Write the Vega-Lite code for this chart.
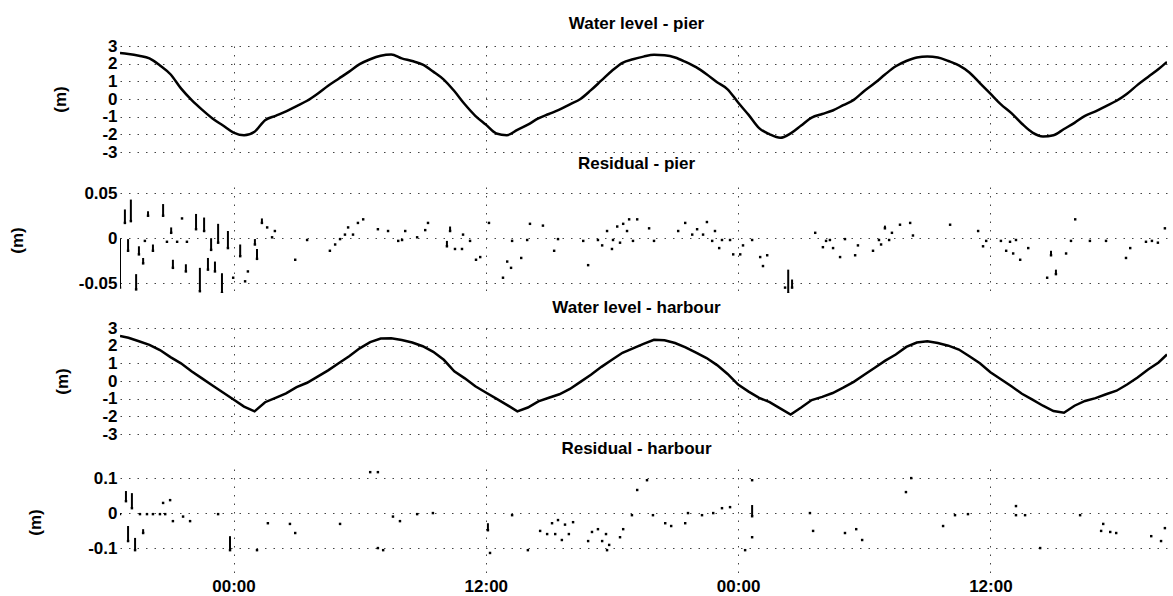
{
"$schema": "https://vega.github.io/schema/vega-lite/v6.json",
"background": "white",
"padding": {"left": 8, "top": 15, "right": 5, "bottom": 2},
"bounds": "flush",
"spacing": 35,
"config": {
  "view": {"stroke": null},
  "font": "Liberation Sans",
  "axis": {"labelFont": "Liberation Sans", "labelFontWeight": "bold", "labelFontSize": 17, "labelColor": "black",
           "titleFont": "Liberation Sans", "titleFontWeight": "bold", "titleFontSize": 17, "titleColor": "black",
           "domain": false, "ticks": false, "grid": true, "gridColor": "#444", "gridDash": [1.5, 7], "gridOpacity": 1, "gridWidth": 1, "labelPadding": 3},
  "title": {"font": "Liberation Sans", "fontSize": 17, "fontWeight": "bold", "color": "black", "anchor": "middle", "frame": "group", "baseline": "alphabetic", "dx": -7}
},
"datasets": {
"level": [
{"time":"2000-01-01T18:36Z","pier":2.6,"harbour":2.55},
{"time":"2000-01-01T19:00Z","pier":2.55,"harbour":2.45},
{"time":"2000-01-01T19:30Z","pier":2.45,"harbour":2.25},
{"time":"2000-01-01T20:00Z","pier":2.3,"harbour":2.05},
{"time":"2000-01-01T20:30Z","pier":1.9,"harbour":1.75},
{"time":"2000-01-01T21:00Z","pier":1.4,"harbour":1.35},
{"time":"2000-01-01T21:30Z","pier":0.6,"harbour":1.0},
{"time":"2000-01-01T22:00Z","pier":-0.05,"harbour":0.55},
{"time":"2000-01-01T22:30Z","pier":-0.6,"harbour":0.15},
{"time":"2000-01-01T23:00Z","pier":-1.1,"harbour":-0.25},
{"time":"2000-01-01T23:30Z","pier":-1.5,"harbour":-0.65},
{"time":"2000-01-02T00:00Z","pier":-1.9,"harbour":-1.05},
{"time":"2000-01-02T00:30Z","pier":-2.05,"harbour":-1.45},
{"time":"2000-01-02T01:00Z","pier":-1.85,"harbour":-1.72},
{"time":"2000-01-02T01:30Z","pier":-1.2,"harbour":-1.2},
{"time":"2000-01-02T02:00Z","pier":-0.95,"harbour":-0.95},
{"time":"2000-01-02T02:30Z","pier":-0.7,"harbour":-0.7},
{"time":"2000-01-02T03:00Z","pier":-0.4,"harbour":-0.35},
{"time":"2000-01-02T03:30Z","pier":-0.1,"harbour":-0.1},
{"time":"2000-01-02T04:00Z","pier":0.3,"harbour":0.25},
{"time":"2000-01-02T04:30Z","pier":0.75,"harbour":0.6},
{"time":"2000-01-02T05:00Z","pier":1.15,"harbour":1.0},
{"time":"2000-01-02T05:30Z","pier":1.55,"harbour":1.4},
{"time":"2000-01-02T06:00Z","pier":1.97,"harbour":1.85},
{"time":"2000-01-02T06:30Z","pier":2.25,"harbour":2.2},
{"time":"2000-01-02T07:00Z","pier":2.45,"harbour":2.4},
{"time":"2000-01-02T07:30Z","pier":2.52,"harbour":2.42},
{"time":"2000-01-02T08:00Z","pier":2.3,"harbour":2.32},
{"time":"2000-01-02T08:30Z","pier":2.15,"harbour":2.18},
{"time":"2000-01-02T09:00Z","pier":1.95,"harbour":1.97},
{"time":"2000-01-02T09:30Z","pier":1.55,"harbour":1.65},
{"time":"2000-01-02T10:00Z","pier":1.1,"harbour":1.2},
{"time":"2000-01-02T10:30Z","pier":0.45,"harbour":0.55},
{"time":"2000-01-02T11:00Z","pier":-0.3,"harbour":0.15},
{"time":"2000-01-02T11:30Z","pier":-0.95,"harbour":-0.3},
{"time":"2000-01-02T12:00Z","pier":-1.45,"harbour":-0.65},
{"time":"2000-01-02T12:30Z","pier":-1.95,"harbour":-1.0},
{"time":"2000-01-02T13:00Z","pier":-2.05,"harbour":-1.35},
{"time":"2000-01-02T13:30Z","pier":-1.75,"harbour":-1.72},
{"time":"2000-01-02T14:00Z","pier":-1.45,"harbour":-1.5},
{"time":"2000-01-02T14:30Z","pier":-1.1,"harbour":-1.15},
{"time":"2000-01-02T15:00Z","pier":-0.85,"harbour":-0.95},
{"time":"2000-01-02T15:30Z","pier":-0.6,"harbour":-0.75},
{"time":"2000-01-02T16:00Z","pier":-0.3,"harbour":-0.45},
{"time":"2000-01-02T16:30Z","pier":0.0,"harbour":-0.05},
{"time":"2000-01-02T17:00Z","pier":0.5,"harbour":0.35},
{"time":"2000-01-02T17:30Z","pier":1.05,"harbour":0.8},
{"time":"2000-01-02T18:00Z","pier":1.6,"harbour":1.2},
{"time":"2000-01-02T18:30Z","pier":2.05,"harbour":1.6},
{"time":"2000-01-02T19:00Z","pier":2.25,"harbour":1.85},
{"time":"2000-01-02T19:30Z","pier":2.4,"harbour":2.1},
{"time":"2000-01-02T20:00Z","pier":2.5,"harbour":2.33},
{"time":"2000-01-02T20:30Z","pier":2.47,"harbour":2.3},
{"time":"2000-01-02T21:00Z","pier":2.35,"harbour":2.15},
{"time":"2000-01-02T21:30Z","pier":2.1,"harbour":1.9},
{"time":"2000-01-02T22:00Z","pier":1.8,"harbour":1.6},
{"time":"2000-01-02T22:30Z","pier":1.4,"harbour":1.3},
{"time":"2000-01-02T23:00Z","pier":0.95,"harbour":0.9},
{"time":"2000-01-02T23:30Z","pier":0.55,"harbour":0.4},
{"time":"2000-01-03T00:00Z","pier":-0.2,"harbour":-0.2},
{"time":"2000-01-03T00:30Z","pier":-0.9,"harbour":-0.6},
{"time":"2000-01-03T01:00Z","pier":-1.65,"harbour":-0.95},
{"time":"2000-01-03T01:30Z","pier":-2.0,"harbour":-1.2},
{"time":"2000-01-03T02:00Z","pier":-2.2,"harbour":-1.55},
{"time":"2000-01-03T02:30Z","pier":-1.95,"harbour":-1.9},
{"time":"2000-01-03T03:00Z","pier":-1.5,"harbour":-1.5},
{"time":"2000-01-03T03:30Z","pier":-1.05,"harbour":-1.08},
{"time":"2000-01-03T04:00Z","pier":-0.85,"harbour":-0.9},
{"time":"2000-01-03T04:30Z","pier":-0.65,"harbour":-0.68},
{"time":"2000-01-03T05:00Z","pier":-0.35,"harbour":-0.38},
{"time":"2000-01-03T05:30Z","pier":-0.05,"harbour":-0.05},
{"time":"2000-01-03T06:00Z","pier":0.45,"harbour":0.35},
{"time":"2000-01-03T06:30Z","pier":0.9,"harbour":0.75},
{"time":"2000-01-03T07:00Z","pier":1.4,"harbour":1.15},
{"time":"2000-01-03T07:30Z","pier":1.85,"harbour":1.5},
{"time":"2000-01-03T08:00Z","pier":2.15,"harbour":1.93},
{"time":"2000-01-03T08:30Z","pier":2.35,"harbour":2.18},
{"time":"2000-01-03T09:00Z","pier":2.4,"harbour":2.25},
{"time":"2000-01-03T09:30Z","pier":2.35,"harbour":2.15},
{"time":"2000-01-03T10:00Z","pier":2.15,"harbour":2.0},
{"time":"2000-01-03T10:30Z","pier":1.9,"harbour":1.78},
{"time":"2000-01-03T11:00Z","pier":1.5,"harbour":1.4},
{"time":"2000-01-03T11:30Z","pier":0.9,"harbour":1.0},
{"time":"2000-01-03T12:00Z","pier":0.3,"harbour":0.5},
{"time":"2000-01-03T12:30Z","pier":-0.3,"harbour":0.1},
{"time":"2000-01-03T13:00Z","pier":-0.8,"harbour":-0.3},
{"time":"2000-01-03T13:30Z","pier":-1.4,"harbour":-0.72},
{"time":"2000-01-03T14:00Z","pier":-1.9,"harbour":-1.05},
{"time":"2000-01-03T14:30Z","pier":-2.12,"harbour":-1.4},
{"time":"2000-01-03T15:00Z","pier":-2.05,"harbour":-1.7},
{"time":"2000-01-03T15:30Z","pier":-1.7,"harbour":-1.8},
{"time":"2000-01-03T16:00Z","pier":-1.35,"harbour":-1.4},
{"time":"2000-01-03T16:30Z","pier":-0.95,"harbour":-1.13},
{"time":"2000-01-03T17:00Z","pier":-0.7,"harbour":-0.97},
{"time":"2000-01-03T17:30Z","pier":-0.4,"harbour":-0.75},
{"time":"2000-01-03T18:00Z","pier":-0.1,"harbour":-0.55},
{"time":"2000-01-03T18:30Z","pier":0.3,"harbour":-0.2},
{"time":"2000-01-03T19:00Z","pier":0.8,"harbour":0.2},
{"time":"2000-01-03T19:30Z","pier":1.25,"harbour":0.65},
{"time":"2000-01-03T20:00Z","pier":1.7,"harbour":1.05},
{"time":"2000-01-03T20:24Z","pier":2.1,"harbour":1.5}
],
"rpier": [
{"time":"2000-01-01T18:36Z","lo":-0.055,"hi":0},
{"time":"2000-01-01T18:50Z","lo":0.017,"hi":0.032},
{"time":"2000-01-01T18:59Z","lo":-0.014,"hi":-0.001},
{"time":"2000-01-01T19:07Z","lo":0.019,"hi":0.043},
{"time":"2000-01-01T19:22Z","lo":-0.057,"hi":-0.04},
{"time":"2000-01-01T19:30Z","lo":-0.018,"hi":-0.009},
{"time":"2000-01-01T19:42Z","lo":-0.028,"hi":-0.022},
{"time":"2000-01-01T19:47Z","lo":-0.003,"hi":-0.003},
{"time":"2000-01-01T19:56Z","lo":0.025,"hi":0.03},
{"time":"2000-01-01T20:10Z","lo":-0.014,"hi":-0.007},
{"time":"2000-01-01T20:39Z","lo":0.025,"hi":0.038},
{"time":"2000-01-01T20:50Z","lo":-0.004,"hi":-0.004},
{"time":"2000-01-01T21:02Z","lo":0.006,"hi":0.012},
{"time":"2000-01-01T21:07Z","lo":-0.033,"hi":-0.024},
{"time":"2000-01-01T21:19Z","lo":-0.004,"hi":-0.004},
{"time":"2000-01-01T21:33Z","lo":0.022,"hi":0.022},
{"time":"2000-01-01T21:44Z","lo":-0.037,"hi":-0.029},
{"time":"2000-01-01T21:47Z","lo":-0.004,"hi":-0.004},
{"time":"2000-01-01T22:13Z","lo":0.01,"hi":0.027},
{"time":"2000-01-01T22:24Z","lo":-0.059,"hi":-0.033},
{"time":"2000-01-01T22:36Z","lo":0.008,"hi":0.023},
{"time":"2000-01-01T22:47Z","lo":-0.035,"hi":-0.022},
{"time":"2000-01-01T22:56Z","lo":-0.013,"hi":0},
{"time":"2000-01-01T23:07Z","lo":-0.037,"hi":-0.026},
{"time":"2000-01-01T23:16Z","lo":-0.005,"hi":0.016},
{"time":"2000-01-01T23:27Z","lo":-0.061,"hi":-0.039},
{"time":"2000-01-01T23:44Z","lo":-0.011,"hi":0.008},
{"time":"2000-01-01T23:59Z","lo":-0.044,"hi":-0.044},
{"time":"2000-01-02T00:19Z","lo":-0.02,"hi":-0.007},
{"time":"2000-01-02T00:33Z","lo":-0.048,"hi":-0.048},
{"time":"2000-01-02T00:41Z","lo":-0.037,"hi":-0.037},
{"time":"2000-01-02T01:01Z","lo":-0.007,"hi":-0.001},
{"time":"2000-01-02T01:07Z","lo":-0.023,"hi":-0.012},
{"time":"2000-01-02T01:21Z","lo":0.017,"hi":0.022},
{"time":"2000-01-02T01:36Z","lo":0.012,"hi":0.012},
{"time":"2000-01-02T01:50Z","lo":0.001,"hi":0.001},
{"time":"2000-01-02T01:58Z","lo":0.008,"hi":0.008},
{"time":"2000-01-02T02:56Z","lo":-0.024,"hi":-0.024},
{"time":"2000-01-02T03:30Z","lo":-0.002,"hi":-0.002},
{"time":"2000-01-02T04:35Z","lo":-0.014,"hi":-0.014},
{"time":"2000-01-02T04:50Z","lo":-0.007,"hi":-0.007},
{"time":"2000-01-02T05:04Z","lo":-0.001,"hi":-0.001},
{"time":"2000-01-02T05:18Z","lo":0.004,"hi":0.004},
{"time":"2000-01-02T05:27Z","lo":0.012,"hi":0.012},
{"time":"2000-01-02T05:41Z","lo":0.004,"hi":0.004},
{"time":"2000-01-02T05:55Z","lo":0.017,"hi":0.017},
{"time":"2000-01-02T06:10Z","lo":0.021,"hi":0.021},
{"time":"2000-01-02T06:52Z","lo":0.01,"hi":0.01},
{"time":"2000-01-02T07:21Z","lo":0.008,"hi":0.008},
{"time":"2000-01-02T07:50Z","lo":-0.003,"hi":-0.003},
{"time":"2000-01-02T08:01Z","lo":-0.002,"hi":-0.002},
{"time":"2000-01-02T08:10Z","lo":0.008,"hi":0.008},
{"time":"2000-01-02T08:44Z","lo":0.001,"hi":0.001},
{"time":"2000-01-02T09:07Z","lo":0.009,"hi":0.009},
{"time":"2000-01-02T09:15Z","lo":0.017,"hi":0.017},
{"time":"2000-01-02T10:09Z","lo":-0.009,"hi":-0.003},
{"time":"2000-01-02T10:18Z","lo":0.008,"hi":0.013},
{"time":"2000-01-02T10:32Z","lo":-0.012,"hi":-0.012},
{"time":"2000-01-02T10:52Z","lo":-0.012,"hi":-0.012},
{"time":"2000-01-02T10:55Z","lo":0.004,"hi":0.004},
{"time":"2000-01-02T11:15Z","lo":-0.003,"hi":-0.003},
{"time":"2000-01-02T11:32Z","lo":-0.024,"hi":-0.024},
{"time":"2000-01-02T11:44Z","lo":-0.021,"hi":-0.021},
{"time":"2000-01-02T12:09Z","lo":0.017,"hi":0.017},
{"time":"2000-01-02T12:49Z","lo":-0.044,"hi":-0.044},
{"time":"2000-01-02T13:01Z","lo":-0.026,"hi":-0.026},
{"time":"2000-01-02T13:12Z","lo":-0.033,"hi":-0.033},
{"time":"2000-01-02T13:15Z","lo":-0.003,"hi":-0.003},
{"time":"2000-01-02T13:41Z","lo":-0.022,"hi":-0.022},
{"time":"2000-01-02T13:58Z","lo":-0.002,"hi":-0.002},
{"time":"2000-01-02T14:06Z","lo":0.016,"hi":0.016},
{"time":"2000-01-02T14:43Z","lo":0.014,"hi":0.014},
{"time":"2000-01-02T15:15Z","lo":-0.014,"hi":-0.014},
{"time":"2000-01-02T15:26Z","lo":-0.001,"hi":-0.001},
{"time":"2000-01-02T16:38Z","lo":-0.003,"hi":-0.003},
{"time":"2000-01-02T16:52Z","lo":-0.03,"hi":-0.03},
{"time":"2000-01-02T17:20Z","lo":-0.002,"hi":-0.002},
{"time":"2000-01-02T17:32Z","lo":-0.008,"hi":-0.008},
{"time":"2000-01-02T17:46Z","lo":0.008,"hi":0.008},
{"time":"2000-01-02T18:00Z","lo":-0.012,"hi":-0.012},
{"time":"2000-01-02T18:03Z","lo":-0.002,"hi":-0.002},
{"time":"2000-01-02T18:15Z","lo":0.013,"hi":0.013},
{"time":"2000-01-02T18:23Z","lo":-0.005,"hi":-0.005},
{"time":"2000-01-02T18:32Z","lo":0.016,"hi":0.016},
{"time":"2000-01-02T18:43Z","lo":0.008,"hi":0.008},
{"time":"2000-01-02T18:49Z","lo":0.021,"hi":0.021},
{"time":"2000-01-02T19:00Z","lo":-0.003,"hi":-0.003},
{"time":"2000-01-02T19:12Z","lo":0.021,"hi":0.021},
{"time":"2000-01-02T19:46Z","lo":0.011,"hi":0.011},
{"time":"2000-01-02T20:00Z","lo":-0.003,"hi":-0.003},
{"time":"2000-01-02T21:09Z","lo":0.008,"hi":0.008},
{"time":"2000-01-02T21:29Z","lo":0.017,"hi":0.017},
{"time":"2000-01-02T21:49Z","lo":0.004,"hi":0.004},
{"time":"2000-01-02T22:03Z","lo":0.01,"hi":0.01},
{"time":"2000-01-02T22:20Z","lo":0.004,"hi":0.004},
{"time":"2000-01-02T22:31Z","lo":0.018,"hi":0.018},
{"time":"2000-01-02T22:46Z","lo":-0.003,"hi":-0.003},
{"time":"2000-01-02T22:54Z","lo":0.008,"hi":0.008},
{"time":"2000-01-02T23:06Z","lo":-0.011,"hi":-0.011},
{"time":"2000-01-02T23:14Z","lo":-0.002,"hi":-0.002},
{"time":"2000-01-02T23:37Z","lo":-0.002,"hi":-0.002},
{"time":"2000-01-02T23:46Z","lo":-0.018,"hi":-0.018},
{"time":"2000-01-03T00:06Z","lo":-0.018,"hi":-0.018},
{"time":"2000-01-03T00:14Z","lo":-0.008,"hi":-0.008},
{"time":"2000-01-03T00:40Z","lo":-0.002,"hi":-0.002},
{"time":"2000-01-03T01:03Z","lo":-0.021,"hi":-0.021},
{"time":"2000-01-03T01:11Z","lo":-0.031,"hi":-0.031},
{"time":"2000-01-03T01:23Z","lo":-0.019,"hi":-0.019},
{"time":"2000-01-03T02:14Z","lo":-0.055,"hi":-0.055},
{"time":"2000-01-03T02:23Z","lo":-0.062,"hi":-0.035},
{"time":"2000-01-03T02:34Z","lo":-0.055,"hi":-0.046},
{"time":"2000-01-03T03:40Z","lo":0.006,"hi":0.006},
{"time":"2000-01-03T04:02Z","lo":-0.01,"hi":-0.01},
{"time":"2000-01-03T04:11Z","lo":-0.003,"hi":-0.003},
{"time":"2000-01-03T04:22Z","lo":-0.002,"hi":-0.002},
{"time":"2000-01-03T04:31Z","lo":-0.011,"hi":-0.011},
{"time":"2000-01-03T04:51Z","lo":-0.021,"hi":-0.021},
{"time":"2000-01-03T05:05Z","lo":-0.001,"hi":-0.001},
{"time":"2000-01-03T05:34Z","lo":-0.019,"hi":-0.019},
{"time":"2000-01-03T05:42Z","lo":-0.008,"hi":-0.008},
{"time":"2000-01-03T06:25Z","lo":-0.014,"hi":-0.014},
{"time":"2000-01-03T06:42Z","lo":-0.002,"hi":-0.002},
{"time":"2000-01-03T06:48Z","lo":-0.007,"hi":-0.007},
{"time":"2000-01-03T06:59Z","lo":0.011,"hi":0.014},
{"time":"2000-01-03T07:11Z","lo":-0.002,"hi":-0.002},
{"time":"2000-01-03T07:19Z","lo":0.006,"hi":0.006},
{"time":"2000-01-03T07:42Z","lo":0.015,"hi":0.015},
{"time":"2000-01-03T08:11Z","lo":0.017,"hi":0.017},
{"time":"2000-01-03T08:19Z","lo":0.003,"hi":0.003},
{"time":"2000-01-03T10:05Z","lo":0.015,"hi":0.015},
{"time":"2000-01-03T11:25Z","lo":0.008,"hi":0.008},
{"time":"2000-01-03T11:39Z","lo":-0.009,"hi":-0.009},
{"time":"2000-01-03T11:48Z","lo":-0.003,"hi":-0.003},
{"time":"2000-01-03T12:30Z","lo":-0.003,"hi":-0.003},
{"time":"2000-01-03T12:45Z","lo":-0.014,"hi":-0.014},
{"time":"2000-01-03T12:56Z","lo":-0.004,"hi":-0.004},
{"time":"2000-01-03T13:05Z","lo":-0.017,"hi":-0.017},
{"time":"2000-01-03T13:13Z","lo":-0.002,"hi":-0.002},
{"time":"2000-01-03T13:25Z","lo":-0.024,"hi":-0.024},
{"time":"2000-01-03T13:48Z","lo":-0.011,"hi":-0.011},
{"time":"2000-01-03T14:42Z","lo":-0.044,"hi":-0.044},
{"time":"2000-01-03T14:53Z","lo":-0.019,"hi":-0.014},
{"time":"2000-01-03T15:07Z","lo":-0.04,"hi":-0.035},
{"time":"2000-01-03T15:36Z","lo":-0.017,"hi":-0.017},
{"time":"2000-01-03T15:50Z","lo":-0.003,"hi":-0.003},
{"time":"2000-01-03T16:02Z","lo":0.021,"hi":0.021},
{"time":"2000-01-03T16:44Z","lo":-0.003,"hi":-0.003},
{"time":"2000-01-03T17:30Z","lo":-0.003,"hi":-0.003},
{"time":"2000-01-03T18:27Z","lo":-0.022,"hi":-0.022},
{"time":"2000-01-03T18:39Z","lo":-0.011,"hi":-0.011},
{"time":"2000-01-03T19:24Z","lo":-0.004,"hi":-0.004},
{"time":"2000-01-03T19:41Z","lo":-0.003,"hi":-0.003},
{"time":"2000-01-03T19:58Z","lo":-0.005,"hi":-0.005},
{"time":"2000-01-03T20:18Z","lo":0.011,"hi":0.011}
],
"rharb": [
{"time":"2000-01-01T18:36Z","lo":-0.003,"hi":-0.003},
{"time":"2000-01-01T18:53Z","lo":0.034,"hi":0.063},
{"time":"2000-01-01T18:59Z","lo":-0.08,"hi":-0.037},
{"time":"2000-01-01T19:10Z","lo":0.014,"hi":0.057},
{"time":"2000-01-01T19:19Z","lo":-0.106,"hi":-0.071},
{"time":"2000-01-01T19:33Z","lo":-0.003,"hi":-0.003},
{"time":"2000-01-01T19:42Z","lo":-0.057,"hi":-0.046},
{"time":"2000-01-01T19:53Z","lo":-0.003,"hi":-0.003},
{"time":"2000-01-01T20:10Z","lo":-0.003,"hi":-0.003},
{"time":"2000-01-01T20:30Z","lo":-0.003,"hi":-0.003},
{"time":"2000-01-01T20:39Z","lo":0.029,"hi":0.029},
{"time":"2000-01-01T20:45Z","lo":-0.003,"hi":-0.003},
{"time":"2000-01-01T20:59Z","lo":0.037,"hi":0.037},
{"time":"2000-01-01T21:07Z","lo":-0.023,"hi":-0.023},
{"time":"2000-01-01T21:36Z","lo":-0.01,"hi":-0.01},
{"time":"2000-01-01T21:56Z","lo":-0.023,"hi":-0.023},
{"time":"2000-01-01T23:16Z","lo":-0.003,"hi":-0.003},
{"time":"2000-01-01T23:50Z","lo":-0.106,"hi":-0.066},
{"time":"2000-01-02T01:07Z","lo":-0.106,"hi":-0.106},
{"time":"2000-01-02T01:38Z","lo":-0.029,"hi":-0.029},
{"time":"2000-01-02T02:41Z","lo":-0.031,"hi":-0.031},
{"time":"2000-01-02T02:56Z","lo":-0.057,"hi":-0.057},
{"time":"2000-01-02T05:04Z","lo":-0.031,"hi":-0.031},
{"time":"2000-01-02T06:30Z","lo":0.117,"hi":0.117},
{"time":"2000-01-02T06:52Z","lo":0.117,"hi":0.117},
{"time":"2000-01-02T06:52Z","lo":-0.1,"hi":-0.1},
{"time":"2000-01-02T07:07Z","lo":-0.106,"hi":-0.106},
{"time":"2000-01-02T07:35Z","lo":-0.01,"hi":-0.01},
{"time":"2000-01-02T07:55Z","lo":-0.023,"hi":-0.023},
{"time":"2000-01-02T08:44Z","lo":-0.003,"hi":-0.003},
{"time":"2000-01-02T09:29Z","lo":0,"hi":0},
{"time":"2000-01-02T12:06Z","lo":-0.049,"hi":-0.029},
{"time":"2000-01-02T12:12Z","lo":-0.114,"hi":-0.114},
{"time":"2000-01-02T13:15Z","lo":-0.006,"hi":-0.006},
{"time":"2000-01-02T14:00Z","lo":-0.106,"hi":-0.106},
{"time":"2000-01-02T14:35Z","lo":-0.051,"hi":-0.051},
{"time":"2000-01-02T14:55Z","lo":-0.06,"hi":-0.06},
{"time":"2000-01-02T15:09Z","lo":-0.029,"hi":-0.029},
{"time":"2000-01-02T15:18Z","lo":-0.06,"hi":-0.06},
{"time":"2000-01-02T15:26Z","lo":-0.02,"hi":-0.02},
{"time":"2000-01-02T15:37Z","lo":-0.077,"hi":-0.077},
{"time":"2000-01-02T15:46Z","lo":-0.033,"hi":-0.033},
{"time":"2000-01-02T15:57Z","lo":-0.06,"hi":-0.06},
{"time":"2000-01-02T16:09Z","lo":-0.026,"hi":-0.026},
{"time":"2000-01-02T16:52Z","lo":-0.08,"hi":-0.08},
{"time":"2000-01-02T17:03Z","lo":-0.054,"hi":-0.054},
{"time":"2000-01-02T17:20Z","lo":-0.046,"hi":-0.046},
{"time":"2000-01-02T17:32Z","lo":-0.08,"hi":-0.08},
{"time":"2000-01-02T17:43Z","lo":-0.06,"hi":-0.06},
{"time":"2000-01-02T17:46Z","lo":-0.106,"hi":-0.106},
{"time":"2000-01-02T17:52Z","lo":-0.091,"hi":-0.091},
{"time":"2000-01-02T18:23Z","lo":-0.069,"hi":-0.069},
{"time":"2000-01-02T18:32Z","lo":-0.046,"hi":-0.046},
{"time":"2000-01-02T18:57Z","lo":-0.006,"hi":-0.006},
{"time":"2000-01-02T19:12Z","lo":0.066,"hi":0.066},
{"time":"2000-01-02T19:40Z","lo":0.094,"hi":0.094},
{"time":"2000-01-02T19:57Z","lo":-0.006,"hi":-0.006},
{"time":"2000-01-02T20:32Z","lo":-0.029,"hi":-0.029},
{"time":"2000-01-02T20:49Z","lo":-0.037,"hi":-0.037},
{"time":"2000-01-02T21:29Z","lo":-0.029,"hi":-0.029},
{"time":"2000-01-02T21:37Z","lo":0,"hi":0},
{"time":"2000-01-02T22:17Z","lo":-0.006,"hi":-0.006},
{"time":"2000-01-02T22:49Z","lo":0,"hi":0},
{"time":"2000-01-02T23:14Z","lo":0.014,"hi":0.014},
{"time":"2000-01-02T23:37Z","lo":0.017,"hi":0.017},
{"time":"2000-01-03T00:20Z","lo":-0.106,"hi":-0.106},
{"time":"2000-01-03T00:40Z","lo":-0.009,"hi":0.023},
{"time":"2000-01-03T00:40Z","lo":0.094,"hi":0.094},
{"time":"2000-01-03T00:40Z","lo":-0.069,"hi":-0.069},
{"time":"2000-01-03T03:25Z","lo":0,"hi":0},
{"time":"2000-01-03T03:34Z","lo":-0.051,"hi":-0.051},
{"time":"2000-01-03T05:05Z","lo":-0.057,"hi":-0.057},
{"time":"2000-01-03T05:37Z","lo":-0.046,"hi":-0.046},
{"time":"2000-01-03T05:54Z","lo":-0.077,"hi":-0.077},
{"time":"2000-01-03T07:59Z","lo":0.06,"hi":0.06},
{"time":"2000-01-03T08:14Z","lo":0.1,"hi":0.1},
{"time":"2000-01-03T09:45Z","lo":-0.037,"hi":-0.037},
{"time":"2000-01-03T10:19Z","lo":-0.006,"hi":-0.006},
{"time":"2000-01-03T10:56Z","lo":-0.003,"hi":-0.003},
{"time":"2000-01-03T13:13Z","lo":0.02,"hi":0.02},
{"time":"2000-01-03T13:13Z","lo":-0.006,"hi":-0.006},
{"time":"2000-01-03T13:39Z","lo":-0.006,"hi":-0.006},
{"time":"2000-01-03T14:22Z","lo":-0.1,"hi":-0.1},
{"time":"2000-01-03T16:16Z","lo":-0.006,"hi":-0.006},
{"time":"2000-01-03T17:16Z","lo":-0.051,"hi":-0.051},
{"time":"2000-01-03T17:22Z","lo":-0.031,"hi":-0.031},
{"time":"2000-01-03T17:42Z","lo":-0.054,"hi":-0.054},
{"time":"2000-01-03T17:59Z","lo":-0.057,"hi":-0.057},
{"time":"2000-01-03T19:39Z","lo":-0.066,"hi":-0.066},
{"time":"2000-01-03T20:07Z","lo":-0.08,"hi":-0.077},
{"time":"2000-01-03T20:18Z","lo":-0.043,"hi":-0.043}
]
},
"vconcat": [
{
  "title": {"text": "Water level - pier", "offset": 4},
  "width": 1047, "height": 106,
  "data": {"name": "level"},
  "mark": {"type": "line", "color": "black", "strokeWidth": 2.5, "clip": true, "interpolate": "monotone"},
  "encoding": {
    "x": {"field": "time", "type": "temporal",
          "scale": {"type": "utc", "domain": [{"year":2000,"month":1,"date":1,"hours":18,"minutes":36,"utc":true},{"year":2000,"month":1,"date":3,"hours":20,"minutes":24,"utc":true}]},
          "axis": {"title": null, "labels": false, "values": [{"year":2000,"month":1,"date":2,"hours":0,"utc":true},{"year":2000,"month":1,"date":2,"hours":12,"utc":true},{"year":2000,"month":1,"date":3,"hours":0,"utc":true},{"year":2000,"month":1,"date":3,"hours":12,"utc":true}]}},
    "y": {"field": "pier", "type": "quantitative", "scale": {"domain": [-3, 3], "nice": false, "zero": false},
          "axis": {"values": [-3,-2,-1,0,1,2,3], "labelExpr": "'' + datum.value", "title": "(m)", "titleAngle": 270, "titleAlign": "center", "titleBaseline": "bottom", "titleX": -51, "titleY": 53}}
  }
},
{
  "title": {"text": "Residual - pier", "offset": 11},
  "width": 1047, "height": 106,
  "data": {"name": "rpier"},
  "encoding": {
    "x": {"field": "time", "type": "temporal",
          "scale": {"type": "utc", "domain": [{"year":2000,"month":1,"date":1,"hours":18,"minutes":36,"utc":true},{"year":2000,"month":1,"date":3,"hours":20,"minutes":24,"utc":true}]},
          "axis": {"title": null, "labels": false, "values": [{"year":2000,"month":1,"date":2,"hours":0,"utc":true},{"year":2000,"month":1,"date":2,"hours":12,"utc":true},{"year":2000,"month":1,"date":3,"hours":0,"utc":true},{"year":2000,"month":1,"date":3,"hours":12,"utc":true}]}},
    "y": {"field": "lo", "type": "quantitative", "scale": {"domain": [-0.061, 0.057], "nice": false, "zero": false},
          "axis": {"values": [-0.05, 0, 0.05], "labelExpr": "'' + datum.value", "title": "(m)", "titleAngle": 270, "titleAlign": "center", "titleBaseline": "bottom", "titleX": -94, "titleY": 53}}
  },
  "layer": [
    {"mark": {"type": "rule", "color": "black", "strokeWidth": 2, "clip": true}, "encoding": {"y2": {"field": "hi"}}},
    {"mark": {"type": "point", "shape": "square", "filled": true, "color": "black", "size": 6, "opacity": 1, "clip": true}}
  ]
},
{
  "title": {"text": "Water level - harbour", "offset": 2},
  "width": 1047, "height": 106,
  "data": {"name": "level"},
  "mark": {"type": "line", "color": "black", "strokeWidth": 2.5, "clip": true},
  "encoding": {
    "x": {"field": "time", "type": "temporal",
          "scale": {"type": "utc", "domain": [{"year":2000,"month":1,"date":1,"hours":18,"minutes":36,"utc":true},{"year":2000,"month":1,"date":3,"hours":20,"minutes":24,"utc":true}]},
          "axis": {"title": null, "labels": false, "values": [{"year":2000,"month":1,"date":2,"hours":0,"utc":true},{"year":2000,"month":1,"date":2,"hours":12,"utc":true},{"year":2000,"month":1,"date":3,"hours":0,"utc":true},{"year":2000,"month":1,"date":3,"hours":12,"utc":true}]}},
    "y": {"field": "harbour", "type": "quantitative", "scale": {"domain": [-3, 3], "nice": false, "zero": false},
          "axis": {"values": [-3,-2,-1,0,1,2,3], "labelExpr": "'' + datum.value", "title": "(m)", "titleAngle": 270, "titleAlign": "center", "titleBaseline": "bottom", "titleX": -49, "titleY": 53}}
  }
},
{
  "title": {"text": "Residual - harbour", "offset": 11},
  "width": 1047, "height": 106,
  "data": {"name": "rharb"},
  "encoding": {
    "x": {"field": "time", "type": "temporal",
          "scale": {"type": "utc", "domain": [{"year":2000,"month":1,"date":1,"hours":18,"minutes":36,"utc":true},{"year":2000,"month":1,"date":3,"hours":20,"minutes":24,"utc":true}]},
          "axis": {"title": null, "labelPadding": 3, "labelExpr": "utcFormat(datum.value, '%H:%M')", "values": [{"year":2000,"month":1,"date":2,"hours":0,"utc":true},{"year":2000,"month":1,"date":2,"hours":12,"utc":true},{"year":2000,"month":1,"date":3,"hours":0,"utc":true},{"year":2000,"month":1,"date":3,"hours":12,"utc":true}]}},
    "y": {"field": "lo", "type": "quantitative", "scale": {"domain": [-0.177, 0.126], "nice": false, "zero": false},
          "axis": {"values": [-0.1, 0, 0.1], "labelExpr": "'' + datum.value", "title": "(m)", "titleAngle": 270, "titleAlign": "center", "titleBaseline": "bottom", "titleX": -76, "titleY": 53}}
  },
  "layer": [
    {"mark": {"type": "rule", "color": "black", "strokeWidth": 2, "clip": true}, "encoding": {"y2": {"field": "hi"}}},
    {"mark": {"type": "point", "shape": "square", "filled": true, "color": "black", "size": 6, "opacity": 1, "clip": true}}
  ]
}
]
}
